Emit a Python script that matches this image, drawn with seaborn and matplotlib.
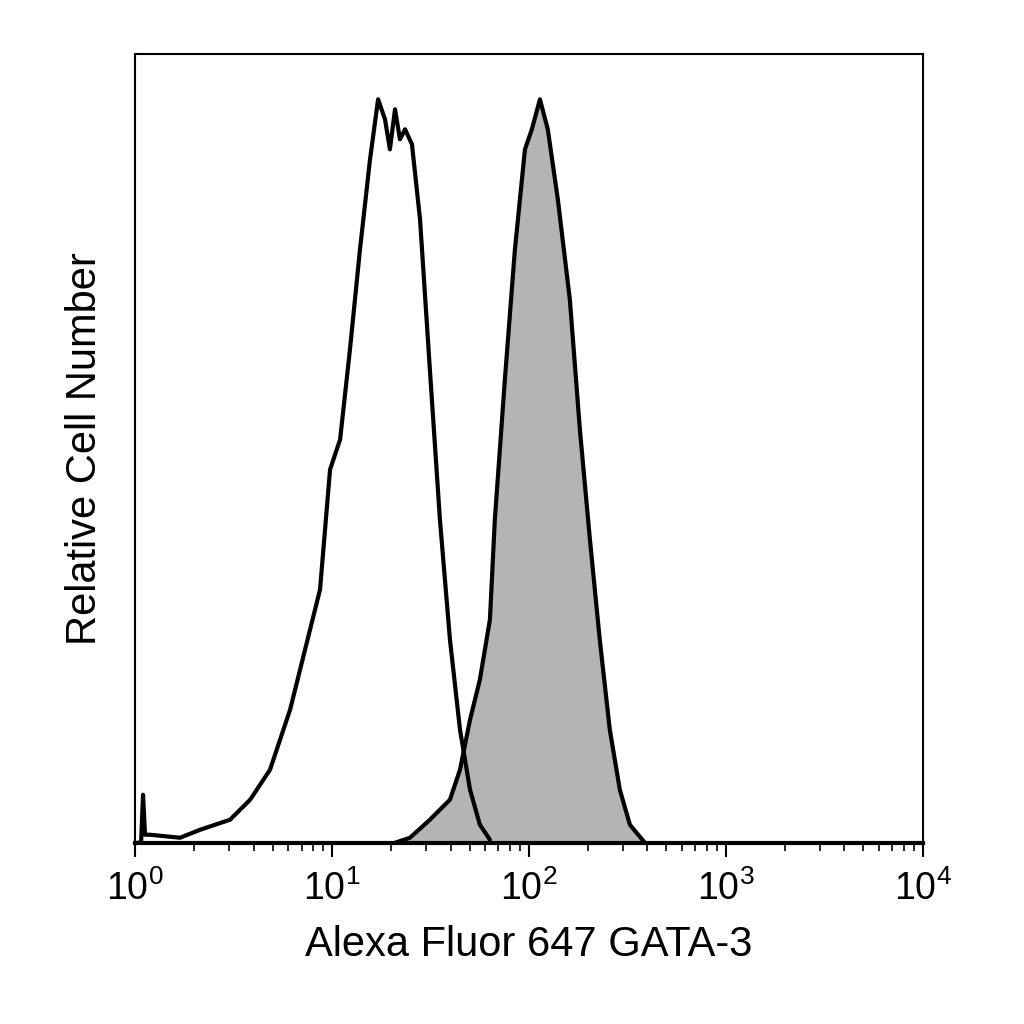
import matplotlib
matplotlib.use("Agg")
import matplotlib.pyplot as plt
import seaborn as sns
import numpy as np
import pandas as pd
from matplotlib.ticker import LogLocator, NullFormatter

sns.set_style("white")
plt.rcParams['font.family'] = ['Liberation Sans', 'DejaVu Sans']
plt.rcParams['text.color'] = 'black'
plt.rcParams['axes.labelcolor'] = 'black'
plt.rcParams['xtick.color'] = 'black'

# control (unfilled) histogram: log10 intensity, relative count
ctrl_log = [0.01, 0.03, 0.04, 0.05, 0.076, 0.228, 0.33, 0.482, 0.584, 0.685, 0.787, 0.863, 0.939,
            0.99, 1.041, 1.091, 1.142, 1.193, 1.234, 1.269, 1.294, 1.32, 1.345, 1.371, 1.406,
            1.447, 1.497, 1.548, 1.599, 1.65, 1.701, 1.751, 1.802]
ctrl_cnt = [0, 0, 48, 8, 8, 5, 13, 23, 43, 73, 133, 193, 253,
            373, 403, 493, 593, 683, 743, 723, 693, 733, 703, 713, 698,
            623, 473, 323, 203, 113, 53, 18, 3]
# GATA-3 stained (filled) histogram
stain_log = [1.320, 1.396, 1.497, 1.599, 1.650, 1.701, 1.751, 1.802, 1.827, 1.878, 1.929,
             1.980, 2.015, 2.056, 2.096, 2.147, 2.208, 2.259, 2.310, 2.360, 2.411, 2.462,
             2.513, 2.589]
stain_cnt = [0, 5, 23, 43, 73, 123, 163, 223, 323, 463, 593, 693, 713, 743, 713, 643,
             543, 413, 303, 203, 113, 53, 18, 0]

fig = plt.figure(figsize=(10.24, 10.24), dpi=100)
ax = fig.add_axes([0.132, 0.177, 0.769, 0.770])

sx = 10 ** np.array(stain_log)
ax.fill_between(sx, stain_cnt, color="#b4b4b4", zorder=1)
sns.lineplot(x=sx, y=stain_cnt, ax=ax, color="black", lw=3, sort=False, zorder=3)
sns.lineplot(x=10 ** np.array(ctrl_log), y=ctrl_cnt, ax=ax, color="black", lw=3, sort=False, zorder=3)

ax.set_xscale("log")
ax.set_xlim(1, 1e4)
ax.set_ylim(0, 788)
ax.set_yticks([])
ax.xaxis.set_major_locator(LogLocator(base=10, numticks=10))
ax.xaxis.set_minor_locator(LogLocator(base=10, subs=np.arange(2, 10), numticks=10))
ax.xaxis.set_minor_formatter(NullFormatter())
ax.tick_params(axis="x", which="major", direction="out", length=10, width=1.5, bottom=True,
               labelsize=27, pad=10)
ax.tick_params(axis="x", which="minor", direction="out", length=6, width=1.2, bottom=True)
for s in ax.spines.values():
    s.set_linewidth(1.5)
    s.set_color("black")
ax.spines["bottom"].set_linewidth(3)
ax.set_xlabel("Alexa Fluor 647 GATA-3", fontsize=30, labelpad=12)
ax.set_ylabel("Relative Cell Number", fontsize=30, labelpad=22)
fig.savefig("out.png", dpi=100)
